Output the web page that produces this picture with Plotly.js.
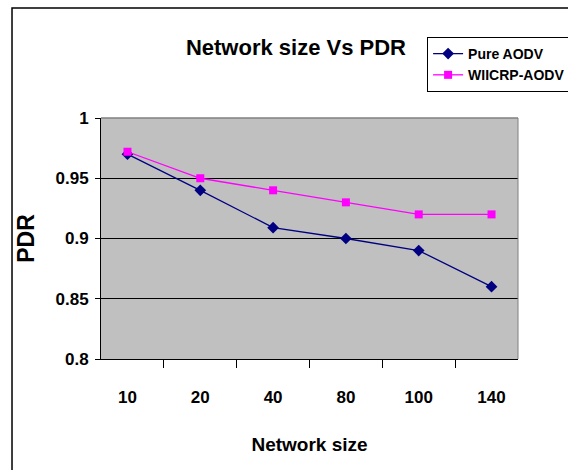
<!DOCTYPE html>
<html>
<head>
<meta charset="utf-8">
<script src="https://cdn.plot.ly/plotly-3.0.1.min.js"></script>
<style>html,body{margin:0;padding:0;background:#fff;}#chart{width:568px;height:470px;}</style>
</head>
<body>
<div id="chart"></div>
<script>
var categories = ["10", "20", "40", "80", "100", "140"];
var pureAODV = [0.97, 0.94, 0.909, 0.90, 0.89, 0.86];
var wiicrpAODV = [0.972, 0.95, 0.94, 0.93, 0.92, 0.92];
var yTicks = [0.8, 0.85, 0.9, 0.95, 1];
var yTickLabels = ["0.8", "0.85", "0.9", "0.95", "1"];

var FONT = "'Liberation Sans', Arial, sans-serif";

var traces = [
  {x: categories, y: pureAODV, name: "Pure AODV", type: "scatter", mode: "lines+markers",
   line: {color: "#000080", width: 1.3}, marker: {symbol: "diamond", size: 9, color: "#000080"}},
  {x: categories, y: wiicrpAODV, name: "WIICRP-AODV", type: "scatter", mode: "lines+markers",
   line: {color: "#FF00FF", width: 1.3}, marker: {symbol: "square", size: 8, color: "#FF00FF"}}
];

var layout = {
  width: 568, height: 470,
  margin: {l: 101, r: 50, t: 118, b: 111, autoexpand: false},
  paper_bgcolor: "#ffffff",
  plot_bgcolor: "#C0C0C0",
  font: {family: FONT, size: 17, color: "#000", weight: "bold"},
  title: {text: "Network size Vs PDR", x: 0.521, xanchor: "center", y: 0.9, yanchor: "middle",
          font: {family: FONT, size: 22, weight: "bold", color: "#000"}},
  showlegend: true,
  legend: {x: 0.782, y: 1.336, xanchor: "left", yanchor: "top", bordercolor: "#000", borderwidth: 1,
           bgcolor: "#fff", font: {family: FONT, size: 14, weight: "bold"}, tracegroupgap: 0,
           itemwidth: 30},
  xaxis: {type: "category", tickson: "boundaries", ticks: "outside", ticklen: 8, tickcolor: "#000",
          showline: true, linecolor: "#000", linewidth: 1, showgrid: false, zeroline: false,
          ticklabelstandoff: 23, fixedrange: true, automargin: false,
          tickfont: {family: FONT, size: 17, weight: "bold"},
          title: {text: "Network size", standoff: 31, font: {family: FONT, size: 19, weight: "bold"}}},
  yaxis: {range: [0.8, 1], tickvals: yTicks, ticktext: yTickLabels, ticks: "outside", ticklen: 5,
          tickcolor: "#000", showline: true, linecolor: "#000", linewidth: 1, automargin: false,
          tickfont: {family: FONT, size: 17, weight: "bold"},
          showgrid: true, gridcolor: "#000", gridwidth: 1, zeroline: false, ticklabelstandoff: 3,
          title: {text: "PDR", standoff: 14, font: {family: FONT, size: 23, weight: "bold"}}},
  shapes: [
    {type: "rect", xref: "paper", yref: "paper", x0: -0.2134, x1: 1.3, y0: -0.6, y1: 1.456,
     line: {color: "#000", width: 1.5}, fillcolor: "rgba(0,0,0,0)", layer: "below"},
    {type: "line", xref: "paper", yref: "paper", x0: 0, x1: 1, y0: 1, y1: 1,
     line: {color: "#808080", width: 1.5}},
    {type: "line", xref: "paper", yref: "paper", x0: 1, x1: 1, y0: 0, y1: 1,
     line: {color: "#808080", width: 1}}
  ]
};

Plotly.newPlot("chart", traces, layout, {displayModeBar: false, staticPlot: true});
</script>
</body>
</html>
